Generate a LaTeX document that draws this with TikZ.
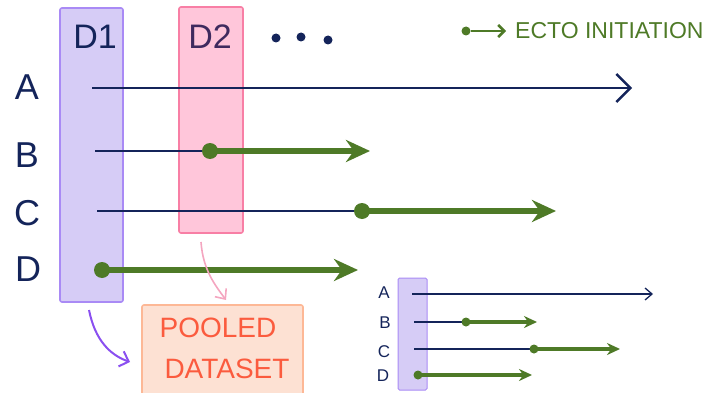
\documentclass[tikz,border=0pt]{standalone}
\usepackage{fontspec}
\setmainfont{Liberation Sans}
\usetikzlibrary{arrows.meta}
\definecolor{navy}{HTML}{14245A}
\definecolor{leaf}{HTML}{4E7A27}
\definecolor{lavfill}{HTML}{D6CCF6}
\definecolor{lavline}{HTML}{A98AF5}
\definecolor{pinkfill}{HTML}{FFC6DA}
\definecolor{pinkline}{HTML}{F87FA5}
\definecolor{peachfill}{HTML}{FDE1D3}
\definecolor{peachline}{HTML}{FDB896}
\definecolor{redtext}{HTML}{FB5B3E}
\definecolor{plum}{HTML}{3F2A5E}
\definecolor{violetarrow}{HTML}{8A4FF0}
\definecolor{pinkarrow}{HTML}{F4A6C0}
\tikzset{
  dset/.style={rounded corners=2pt, line width=1.6pt},
  rowlabel/.style={text=navy, font=\fontsize{36}{36}\selectfont, inner sep=0pt},
  smalllabel/.style={text=navy, font=\fontsize{17}{17}\selectfont, inner sep=0pt},
  timeline/.style={draw=navy, line width=2.4pt},
  timearrow/.style={timeline, -{Straight Barb[length=14pt,width=28pt,line width=2.4pt]}},
  ecto/.style={draw=leaf, line width=5.5pt, -{Stealth[length=24pt,width=22pt]}},
  ectodot/.style={fill=leaf, circle, inner sep=0pt, minimum size=16pt},
  stimeline/.style={draw=navy, line width=1.3pt},
  stimearrow/.style={stimeline, -{Straight Barb[length=7pt,width=12pt,line width=1.3pt]}},
  secto/.style={draw=leaf, line width=3.2pt, -{Stealth[length=13pt,width=12pt]}},
  sectodot/.style={fill=leaf, circle, inner sep=0pt, minimum size=9pt},
}
\begin{document}
\begin{tikzpicture}[x=1pt,y=-1pt]
\useasboundingbox (0,0) rectangle (714,393);
\clip (0,0) rectangle (714,393);

% dataset columns
\draw[dset, fill=lavfill, draw=lavline] (60,8) rectangle (123,302);
\node[inner sep=0pt] (d1box) at (91.5,155) {};
\draw[dset, fill=pinkfill, draw=pinkline] (179,7) rectangle (243,233);
\node[inner sep=0pt] (d2box) at (211,120) {};
\node[text=navy, font=\fontsize{34}{34}\selectfont, inner sep=0pt] (d1) at (95,37) {D1};
\node[text=plum, font=\fontsize{34}{34}\selectfont, inner sep=0pt] (d2) at (210,37) {D2};
\fill[navy] (276,38) circle (4.5) (301,37) circle (4.5) (328,40) circle (4.5);

% row labels
\node[rowlabel] (la) at (27,87) {A};
\node[rowlabel] (lb) at (27,155) {B};
\node[rowlabel] (lc) at (27,213) {C};
\node[rowlabel] (ld) at (28,269) {D};

% timelines
\coordinate (as) at (92,88);  \coordinate (ae) at (632,88);
\coordinate (bs) at (95,151); \coordinate (bm) at (210,151); \coordinate (be) at (370,151);
\coordinate (cs) at (97,211); \coordinate (cm) at (362,211); \coordinate (ce) at (556,211);
\coordinate (ds) at (102,270); \coordinate (de) at (358,270);
\draw[timearrow] (as) -- (ae);
\draw[timeline] (bs) -- (bm);
\draw[timeline] (cs) -- (cm);
\draw[ecto] (bm) -- (be);
\node[ectodot] (bdot) at (bm) {};
\draw[ecto] (cm) -- (ce);
\node[ectodot] (cdot) at (cm) {};
\draw[ecto] (ds) -- (de);
\node[ectodot] (ddot) at (ds) {};

% legend
\node[fill=leaf, circle, inner sep=0pt, minimum size=9pt] (legdot) at (466,31) {};
\coordinate (legend) at (506,31);
\draw[draw=leaf, line width=2.5pt, -{Straight Barb[length=6pt,width=12pt,line width=2.5pt]}] (legdot) -- (legend);
\node[text=leaf, font=\fontsize{23}{23}\selectfont, inner sep=0pt, anchor=west] (legtext) at (515,31) {ECTO INITIATION};

% pooled dataset
\draw[fill=peachfill, draw=peachline, line width=1.6pt, rounded corners=2pt] (142,305) rectangle (303,400);
\node[inner sep=0pt] (pool) at (222,350) {};
\node[text=redtext, font=\fontsize{28}{28}\selectfont, inner sep=0pt] (pool1) at (218,328) {POOLED};
\node[text=redtext, font=\fontsize{28}{28}\selectfont, inner sep=0pt] (pool2) at (227,369) {DATASET};
\coordinate (p1s) at (89,310); \coordinate (p1e) at (130,362);
\draw[violetarrow, line width=2pt, -{Straight Barb[length=8pt,width=16pt,line width=2pt]}] (p1s) .. controls (95,340) and (110,355) .. (p1e);
\coordinate (p2s) at (201,242); \coordinate (p2e) at (226,300);
\draw[pinkarrow, line width=1.6pt, -{Straight Barb[length=8pt,width=14pt,line width=1.6pt]}] (p2s) .. controls (203,270) and (215,285) .. (p2e);

% small copy
\draw[rounded corners=1.5pt, line width=1pt, fill=lavfill, draw=lavline] (398,278) rectangle (427,390);
\node[inner sep=0pt] (smallbox) at (412,334) {};
\node[smalllabel] (sa) at (384,293) {A};
\node[smalllabel] (sb) at (385,323) {B};
\node[smalllabel] (sc) at (384,352) {C};
\node[smalllabel] (sd) at (383,376) {D};
\coordinate (sas) at (412,294); \coordinate (sae) at (653,294);
\coordinate (sbs) at (414,322); \coordinate (sbm) at (466,322); \coordinate (sbe) at (537,322);
\coordinate (scs) at (414,349); \coordinate (scm) at (534,349); \coordinate (sce) at (620,349);
\coordinate (sds) at (418,375); \coordinate (sde) at (532,375);
\draw[stimearrow] (sas) -- (sae);
\draw[stimeline] (sbs) -- (sbm);
\draw[stimeline] (scs) -- (scm);
\draw[secto] (sbm) -- (sbe);
\node[sectodot] (sbdot) at (sbm) {};
\draw[secto] (scm) -- (sce);
\node[sectodot] (scdot) at (scm) {};
\draw[secto] (sds) -- (sde);
\node[sectodot] (sddot) at (sds) {};
\end{tikzpicture}
\end{document}
